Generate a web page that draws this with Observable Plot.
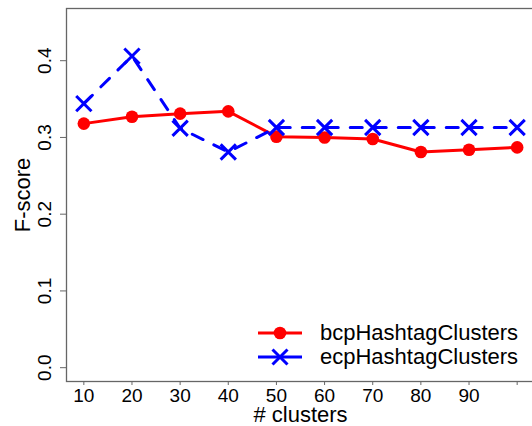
<!DOCTYPE html>
<html>
<head>
<meta charset="utf-8">
<script src="https://cdn.jsdelivr.net/npm/d3@7"></script>
<script src="https://cdn.jsdelivr.net/npm/@observablehq/plot@0.6"></script>
<style>
  body { margin: 0; background: #fff; font-family: "Liberation Sans", Arial, sans-serif; }
  #wrap { position: relative; width: 532px; height: 426px; overflow: hidden; }
  #legend { position: absolute; left: 256px; top: 320.5px; font-size: 22px; color: #000; }
  .row { display: flex; align-items: center; height: 24px; line-height: 24px; white-space: nowrap; }
  .row svg { display: block; }
</style>
</head>
<body>
<div id="wrap"><div id="legend"></div></div>
<script>
// ---- data ----
const clusters = [10, 20, 30, 40, 50, 60, 70, 80, 90, 100];
const bcpHashtagClusters = [0.318, 0.327, 0.331, 0.334, 0.301, 0.300, 0.298, 0.281, 0.284, 0.287];
const ecpHashtagClusters = [0.344, 0.406, 0.312, 0.281, 0.313, 0.313, 0.313, 0.313, 0.313, 0.313];
const seriesNames = ["bcpHashtagClusters", "ecpHashtagClusters"];
const seriesColors = ["#ff0000", "#0000ff"];
const xTicks = [10, 20, 30, 40, 50, 60, 70, 80, 90, 100];
const xTickLabels = ["10", "20", "30", "40", "50", "60", "70", "80", "90", ""];
const yTicks = [0, 0.1, 0.2, 0.3, 0.4];
const yTickLabels = ["0.0", "0.1", "0.2", "0.3", "0.4"];
const xTitle = "# clusters";
const yTitle = "F-score";

const bcpData = clusters.map((c, i) => ({x: c, y: bcpHashtagClusters[i]}));
const ecpData = clusters.map((c, i) => ({x: c, y: ecpHashtagClusters[i]}));

const axisColor = "#666";
const font = "'Liberation Sans', Arial, sans-serif";

const chart = Plot.plot({
  width: 532,
  height: 426,
  marginLeft: 66,
  marginRight: -2,
  marginTop: 8,
  marginBottom: 45,
  style: {fontFamily: font, fontSize: "19px", color: "#000", background: "#fff", overflow: "visible"},
  x: {domain: [6.4, 103.6]},
  y: {domain: [-0.018, 0.468]},
  marks: [
    Plot.frame({stroke: axisColor, strokeWidth: 1.3}),
    Plot.axisX({ticks: xTicks, tickFormat: (d) => xTickLabels[xTicks.indexOf(d)], tickSize: 4, tickPadding: 3, stroke: axisColor, label: null, fill: "#000", fontSize: 19, fontFamily: font}),
    Plot.axisX({ticks: [], label: xTitle, labelAnchor: "center", labelArrow: "none", labelOffset: 40, fontSize: 22, fill: "#000", fontFamily: font}),
    Plot.axisY({ticks: yTicks, tickFormat: d => yTickLabels[yTicks.indexOf(d)], tickSize: 6, tickPadding: 10, tickRotate: -90, stroke: axisColor, label: null, fill: "#000", fontSize: 19, fontFamily: font}),
    Plot.axisY({ticks: [], label: yTitle, labelAnchor: "center", labelArrow: "none", labelOffset: 52, fontSize: 22, fill: "#000", fontFamily: font}),
    Plot.line(bcpData, {x: "x", y: "y", stroke: seriesColors[0], strokeWidth: 3}),
    Plot.line(ecpData, {x: "x", y: "y", stroke: seriesColors[1], strokeWidth: 3, strokeDasharray: "12,12"}),
    Plot.dot(bcpData, {x: "x", y: "y", r: 6.3, fill: seriesColors[0], stroke: "none"}),
    Plot.dot(ecpData, {x: "x", y: "y", r: 7, symbol: "times", stroke: seriesColors[1], strokeWidth: 3})
  ]
});
document.getElementById("wrap").prepend(chart);

// ---- legend ----
const legend = document.getElementById("legend");
seriesNames.forEach((name, i) => {
  const row = document.createElement("div");
  row.className = "row";
  const ns = "http://www.w3.org/2000/svg";
  const svg = document.createElementNS(ns, "svg");
  svg.setAttribute("width", 64);
  svg.setAttribute("height", 24);
  const line = document.createElementNS(ns, "line");
  line.setAttribute("x1", 2); line.setAttribute("x2", 46);
  line.setAttribute("y1", 12); line.setAttribute("y2", 12);
  line.setAttribute("stroke", seriesColors[i]); line.setAttribute("stroke-width", 3);
  svg.appendChild(line);
  if (i === 0) {
    const c = document.createElementNS(ns, "circle");
    c.setAttribute("cx", 24); c.setAttribute("cy", 12); c.setAttribute("r", 6.3);
    c.setAttribute("fill", seriesColors[i]);
    svg.appendChild(c);
  } else {
    const p = document.createElementNS(ns, "path");
    p.setAttribute("d", "M16.5,4.5L31.5,19.5M16.5,19.5L31.5,4.5");
    p.setAttribute("stroke", seriesColors[i]); p.setAttribute("stroke-width", 3);
    svg.appendChild(p);
  }
  row.appendChild(svg);
  const span = document.createElement("span");
  span.textContent = name;
  row.appendChild(span);
  legend.appendChild(row);
});
</script>
</body>
</html>
